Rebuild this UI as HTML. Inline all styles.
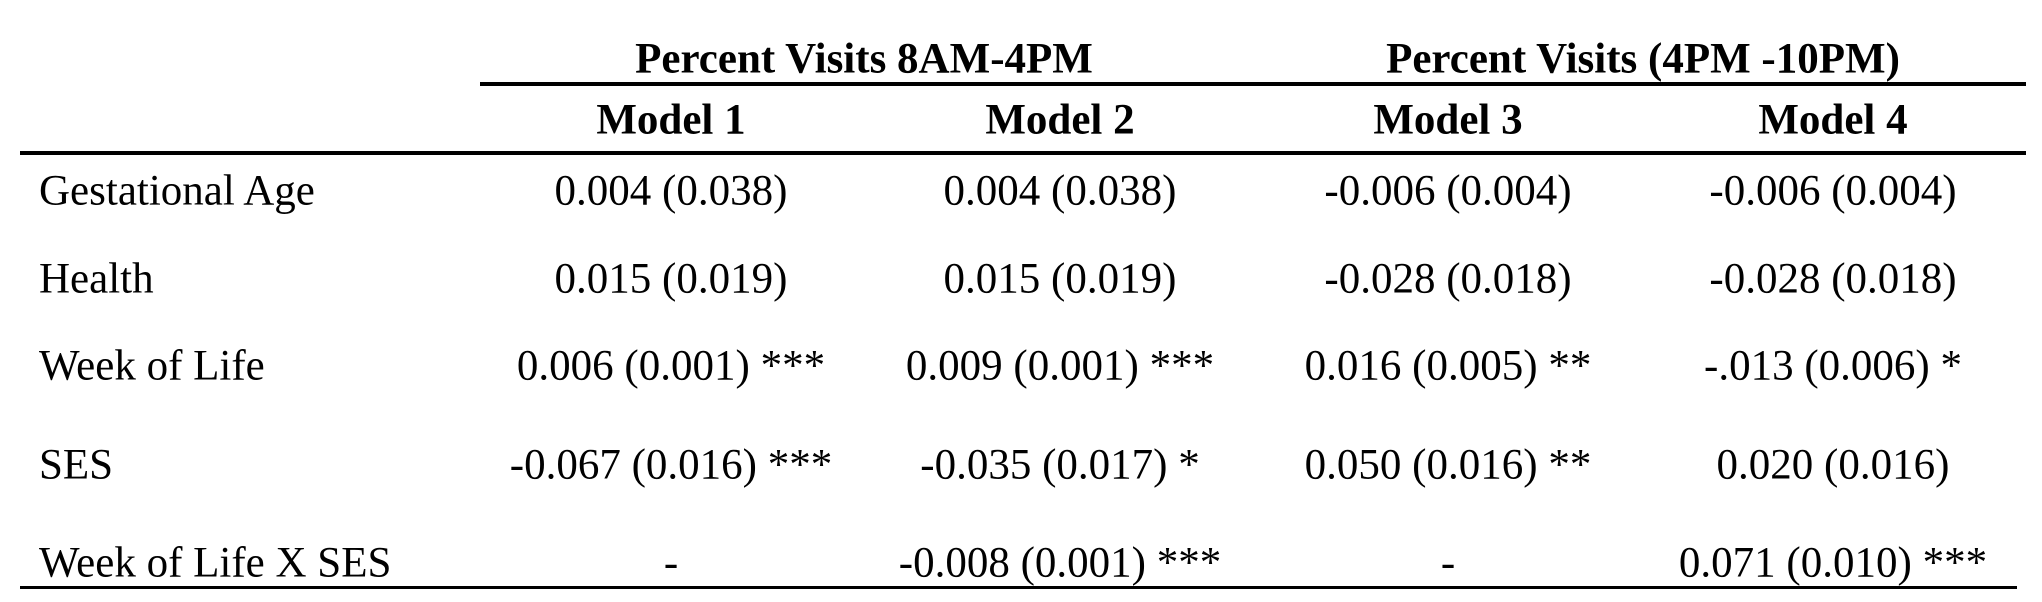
<!DOCTYPE html>
<html><head><meta charset="utf-8"><style>
body{margin:0;width:2042px;height:602px;background:#fff;position:relative;overflow:hidden;font-family:"Liberation Serif",serif;color:#000}
.t{position:absolute;font-size:43px;line-height:1;white-space:nowrap;transform:translate(-50%,-50%)}
.l{position:absolute;font-size:43px;line-height:1;white-space:nowrap;transform:translateY(-50%);left:39px}
.b{font-weight:bold}
.r{position:absolute;background:#000}
</style></head><body>
<div class="t b" style="left:864px;top:59px">Percent Visits 8AM-4PM</div>
<div class="t b" style="left:1643px;top:59px">Percent Visits (4PM -10PM)</div>
<div class="r" style="left:480px;top:82px;width:1546px;height:4px"></div>
<div class="t b" style="left:671px;top:120px">Model 1</div>
<div class="t b" style="left:1060px;top:120px">Model 2</div>
<div class="t b" style="left:1448px;top:120px">Model 3</div>
<div class="t b" style="left:1833px;top:120px">Model 4</div>
<div class="r" style="left:20px;top:151px;width:2006px;height:4px"></div>

<div class="l" style="top:191px">Gestational Age</div>
<div class="t" style="left:671px;top:191px">0.004 (0.038)</div>
<div class="t" style="left:1060px;top:191px">0.004 (0.038)</div>
<div class="t" style="left:1448px;top:191px">-0.006 (0.004)</div>
<div class="t" style="left:1833px;top:191px">-0.006 (0.004)</div>

<div class="l" style="top:279px">Health</div>
<div class="t" style="left:671px;top:279px">0.015 (0.019)</div>
<div class="t" style="left:1060px;top:279px">0.015 (0.019)</div>
<div class="t" style="left:1448px;top:279px">-0.028 (0.018)</div>
<div class="t" style="left:1833px;top:279px">-0.028 (0.018)</div>

<div class="l" style="top:366px">Week of Life</div>
<div class="t" style="left:671px;top:366px">0.006 (0.001) ***</div>
<div class="t" style="left:1060px;top:366px">0.009 (0.001) ***</div>
<div class="t" style="left:1448px;top:366px">0.016 (0.005) **</div>
<div class="t" style="left:1833px;top:366px">-.013 (0.006) *</div>

<div class="l" style="top:465px">SES</div>
<div class="t" style="left:671px;top:465px">-0.067 (0.016) ***</div>
<div class="t" style="left:1060px;top:465px">-0.035 (0.017) *</div>
<div class="t" style="left:1448px;top:465px">0.050 (0.016) **</div>
<div class="t" style="left:1833px;top:465px">0.020 (0.016)</div>

<div class="l" style="top:563px">Week of Life X SES</div>
<div class="t" style="left:671px;top:563px">-</div>
<div class="t" style="left:1060px;top:563px">-0.008 (0.001) ***</div>
<div class="t" style="left:1448px;top:563px">-</div>
<div class="t" style="left:1833px;top:563px">0.071 (0.010) ***</div>

<div class="r" style="left:20px;top:586px;width:1997px;height:3px"></div>
</body></html>
